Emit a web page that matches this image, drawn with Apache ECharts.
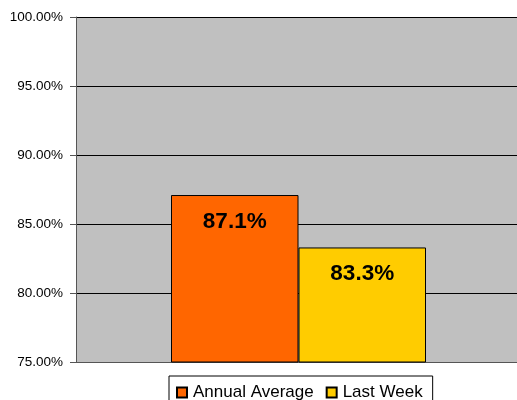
<!DOCTYPE html>
<html>
<head>
<meta charset="utf-8">
<script src="https://cdn.jsdelivr.net/npm/echarts@6/dist/echarts.min.js"></script>
<style>html,body{margin:0;padding:0;background:#fff}#c{width:517px;height:400px}</style>
</head>
<body>
<div id="c"></div>
<script>
const categories = ['Performance'];
const seriesNames = ['Annual Average', 'Last Week'];
const annualAverage = [87.1];
const lastWeek = [83.3];
const yMin = 75, yMax = 100, yStep = 5;

const chart = echarts.init(document.getElementById('c'), null, {renderer: 'canvas'});
const font = 'Liberation Sans, Arial, sans-serif';
const labelCfg = {
  show: true, position: 'insideTop', distance: 15,
  color: '#000', fontFamily: font, fontWeight: 'bold', fontSize: 22.5,
  formatter: p => p.value.toFixed(1) + '%'
};
chart.setOption({
  animation: false,
  textStyle: {fontFamily: font},
  grid: {left: 76, top: 17, right: 0, bottom: 38, show: true, backgroundColor: '#C0C0C0', borderWidth: 0, containLabel: false},
  legend: {
    data: seriesNames, left: 169, top: 376,
    borderColor: '#000', borderWidth: 1, padding: [8, 10, 10, 7],
    itemWidth: 10, itemHeight: 10, itemGap: 12, icon: 'rect',
    textStyle: {fontFamily: font, fontSize: 17, color: '#000', padding: [0, 0, 0, 1]}
  },
  xAxis: {
    type: 'category', data: categories,
    axisLine: {lineStyle: {color: '#555', width: 1}},
    axisTick: {show: false}, axisLabel: {show: false}
  },
  yAxis: {
    type: 'value', min: yMin, max: yMax, interval: yStep,
    axisLine: {show: true, lineStyle: {color: '#555'}},
    axisTick: {show: true, length: 6, lineStyle: {color: '#555'}},
    axisLabel: {formatter: v => v.toFixed(2) + '%', color: '#000', fontSize: 13.5, fontFamily: font, margin: 13},
    splitLine: {show: true, lineStyle: {color: '#000', width: 1}}
  },
  series: [
    {name: 'spacer', type: 'bar', data: ['-'], barWidth: 4, barGap: '0%', silent: true,
     itemStyle: {color: 'transparent'}},
    {name: seriesNames[0], type: 'bar', data: annualAverage, barWidth: 127.5, barGap: '0%',
     itemStyle: {color: '#FF6600', borderColor: '#000', borderWidth: 1}, label: labelCfg},
    {name: seriesNames[1], type: 'bar', data: lastWeek, barWidth: 127.5, barGap: '0%',
     itemStyle: {color: '#FFCC00', borderColor: '#000', borderWidth: 1}, label: labelCfg}
  ]
});
</script>
</body>
</html>
